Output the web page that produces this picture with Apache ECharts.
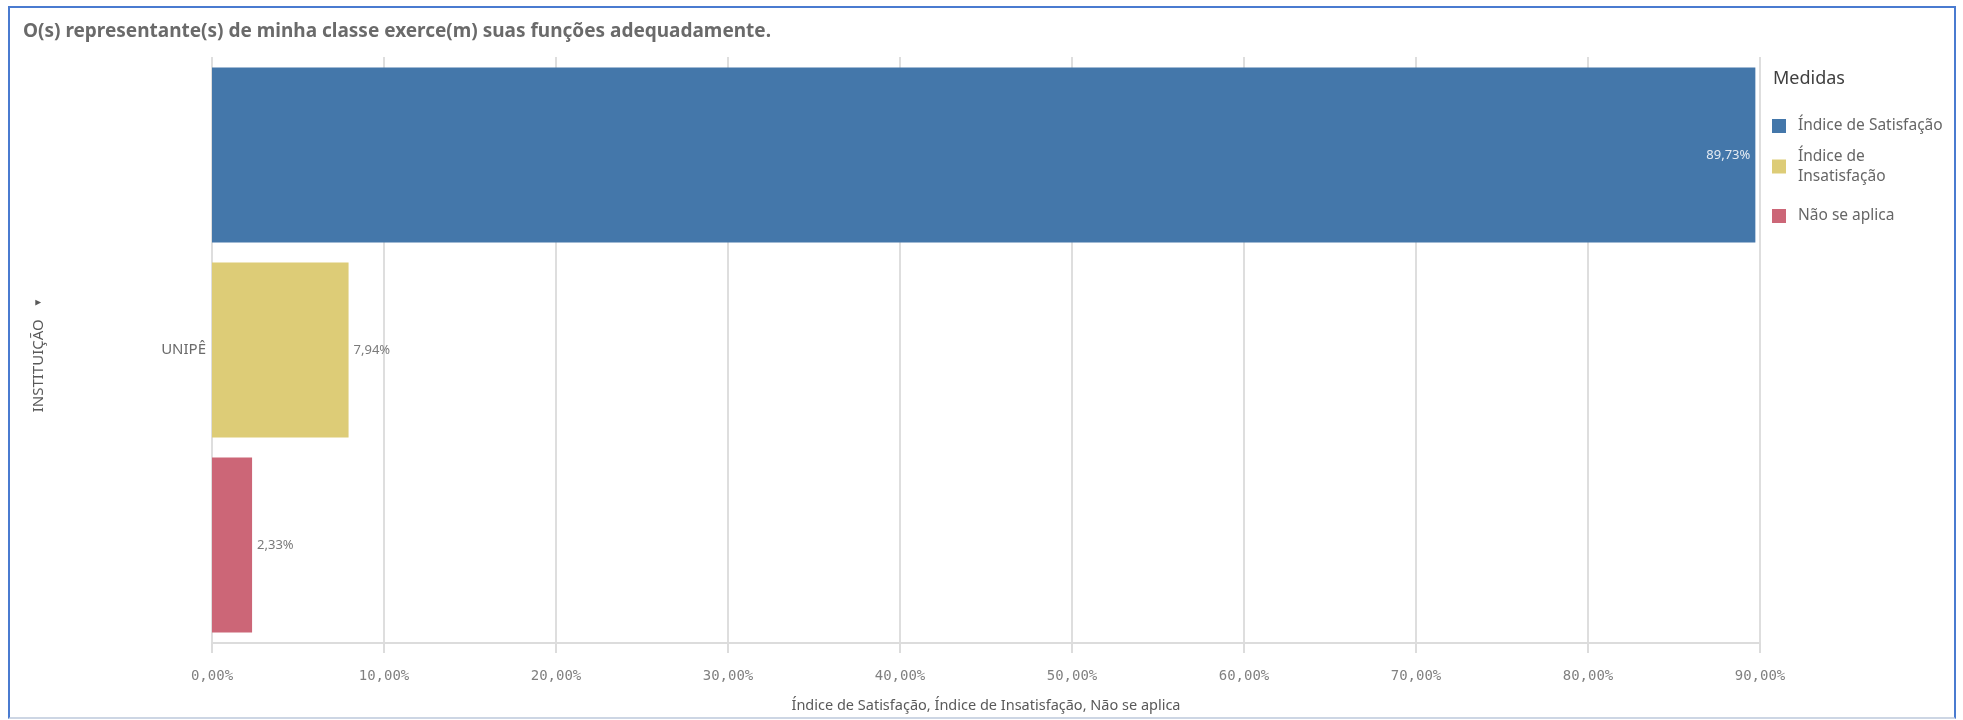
<!DOCTYPE html>
<html>
<head>
<meta charset="utf-8">
<script src="https://cdn.jsdelivr.net/npm/echarts@6/dist/echarts.min.js"></script>
<style>
html,body{margin:0;padding:0;background:#fff;}
#chart{width:1963px;height:720px;position:absolute;left:0;top:0;}
#frame{position:absolute;left:8px;top:6px;width:1944px;height:709px;border:2px solid #4a7bd0;border-bottom:2px solid #cdd6e4;pointer-events:none;}
</style>
</head>
<body>
<div id="chart"></div>
<div id="frame"></div>
<script>
const titleText = 'O(s) representante(s) de minha classe exerce(m) suas funções adequadamente.';
const categories = ['UNIPÊ'];
const seriesNames = ['Índice de Satisfação', 'Índice de Insatisfação', 'Não se aplica'];
const legendLabels = ['Índice de Satisfação', 'Índice de\nInsatisfação', 'Não se aplica'];
const satisfacao = [89.73];
const insatisfacao = [7.94];
const naoSeAplica = [2.33];
const seriesColors = ['#4477aa', '#ddcc77', '#cc6677'];
const xMin = 0, xMax = 90, xInterval = 10;
const xAxisName = 'Índice de Satisfação, Índice de Insatisfação, Não se aplica';
const yAxisName = 'INSTITUIÇÃO';
const legendTitle = 'Medidas';

const fmt = v => v.toFixed(2).replace('.', ',') + '%';
const values = [satisfacao, insatisfacao, naoSeAplica];
const legendTops = [111, 141.5, 201];

const chart = echarts.init(document.getElementById('chart'));
const series = seriesNames.map((name, i) => ({
  name: name,
  type: 'bar',
  data: values[i],
  barWidth: 175,
  barGap: '11.43%',
  itemStyle: { color: seriesColors[i] },
  label: {
    show: true,
    position: i === 0 ? 'insideRight' : 'right',
    distance: 5,
    color: i === 0 ? '#e4ebf3' : '#7a7a7a',
    fontFamily: 'Noto Sans',
    fontSize: 13,
    formatter: p => fmt(p.value)
  }
}));

const legends = seriesNames.map((name, i) => ({
  orient: 'vertical',
  left: 1767,
  top: legendTops[i],
  itemWidth: 14,
  itemHeight: 14,
  icon: 'rect',
  data: [name],
  formatter: n => legendLabels[seriesNames.indexOf(n)],
  textStyle: { fontFamily: 'Noto Sans', fontSize: 15.5, color: '#666', lineHeight: 20, padding: [0, 0, 0, 7] }
}));

chart.setOption({
  animation: false,
  title: [
    { text: titleText, left: 18, top: 17,
      textStyle: { fontFamily: 'Noto Sans', fontWeight: 'bold', fontSize: 19, color: '#6a6a6a' } },
    { text: legendTitle, left: 1768, top: 65,
      textStyle: { fontFamily: 'Noto Sans', fontWeight: 'normal', fontSize: 18, color: '#404040' } }
  ],
  legend: legends,
  grid: { left: 212, right: 1963 - 1760, top: 57, bottom: 720 - 643, containLabel: false },
  xAxis: {
    type: 'value',
    min: xMin, max: xMax, interval: xInterval,
    name: xAxisName,
    nameLocation: 'middle',
    nameGap: 55,
    nameTextStyle: { fontFamily: 'Noto Sans', fontSize: 14.5, color: '#595959' },
    axisLine: { show: true, lineStyle: { color: '#dcdcdc', width: 2 } },
    axisTick: { show: true, length: 10, lineStyle: { color: '#dcdcdc', width: 2 } },
    axisLabel: { formatter: v => fmt(v), fontFamily: 'DejaVu Sans Mono', fontSize: 14, color: '#808080', margin: 26 },
    splitLine: { show: true, lineStyle: { color: '#dedede', width: 2 } }
  },
  yAxis: {
    type: 'category',
    data: categories,
    inverse: true,
    name: yAxisName + '   {tri|▼}',
    nameLocation: 'middle',
    nameRotate: 90,
    nameGap: 166,
    nameTextStyle: { fontFamily: 'Noto Sans', fontSize: 15, color: '#595959', padding: [0, 10, 0, 0],
      rich: { tri: { fontSize: 10, color: '#595959' } } },
    axisLine: { show: false },
    axisTick: { show: false },
    axisLabel: { fontFamily: 'Noto Sans', fontSize: 15, color: '#6a6a6a', margin: 6 }
  },
  series: series
});
</script>
</body>
</html>
